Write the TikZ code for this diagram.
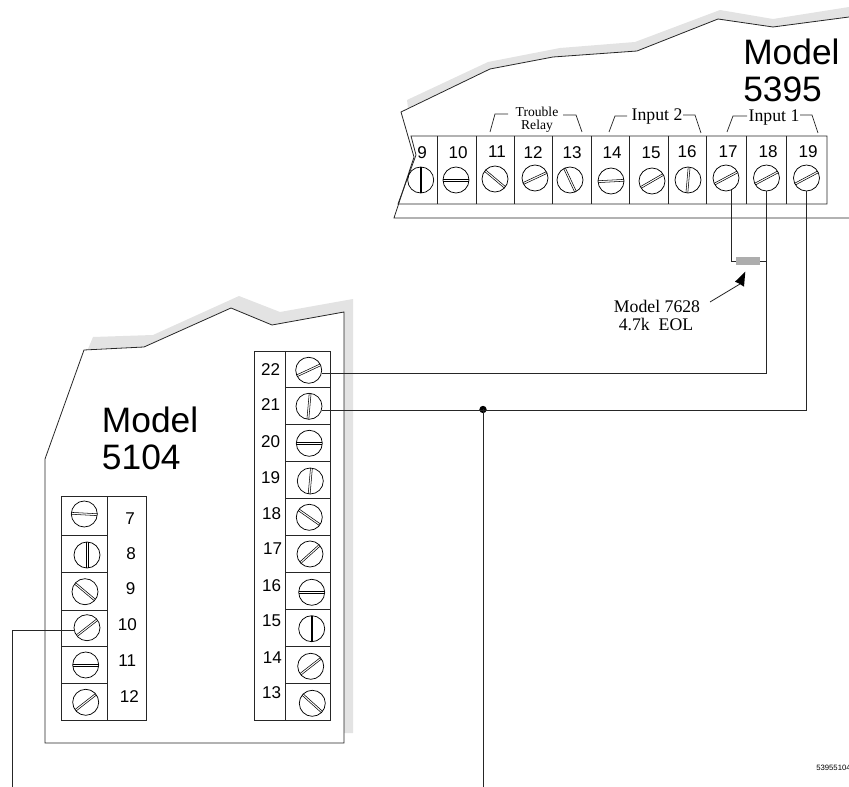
\documentclass[tikz,border=0pt]{standalone}
\usepackage{fontspec}
\setmainfont{Liberation Sans}
\newfontfamily\serifface{Liberation Serif}
\usetikzlibrary{arrows.meta}
\tikzset{
  x=0.75pt,y=-0.75pt,
  thinline/.style={line width=0.6pt,black!85},
  wire/.style={line width=0.65pt,black!85},
  screwhead/.style={circle,draw,line width=0.55pt,minimum size=19.5pt,inner sep=0pt,outer sep=0pt},
  slotline/.style={line width=0.4pt,black},
  numlabel/.style={inner sep=0pt,font=\fontsize{12.8}{12.8}\selectfont},
  bigtitle/.style={inner sep=0pt,anchor=base west,font=\fontsize{26.5}{26.5}\selectfont},
  seriflabel/.style={inner sep=0pt,font=\serifface\fontsize{13.3}{13.3}\selectfont},
  smallserif/.style={inner sep=0pt,font=\serifface\fontsize{10.2}{10.2}\selectfont},
  shadow/.style={fill=black!11,draw=none},
  bracket/.style={line width=0.55pt,black!85},
  junction/.style={circle,fill=black,inner sep=0pt,minimum size=5.5pt},
  resistor/.style={fill=black!32,draw=none,inner sep=0pt,minimum width=18pt,minimum height=6pt},
  endnote/.style={inner sep=0pt,anchor=west,font=\fontsize{5.8}{5.8}\selectfont}
}
\newcommand{\screwat}[4]{%
  \node[screwhead] (#1) at (#2,#3) {};
  \begin{scope}[shift={(#1.center)},rotate=#4]
    \draw[slotline] (-9.7pt,0.7pt) -- (9.7pt,0.7pt);
    \draw[slotline] (-9.7pt,-0.7pt) -- (9.7pt,-0.7pt);
  \end{scope}
}
\begin{document}
\begin{tikzpicture}
\useasboundingbox (0,0) rectangle (849,787);
\clip (0,0) rectangle (849,787);
% shadows
\fill[shadow] (407,100) -- (488,62) -- (560,48) -- (635,42) -- (720,10) -- (773,19) -- (849,7) -- (849,17) -- (773,27) -- (718,19) -- (637,51) -- (553,57) -- (490,69) -- (408,108) -- cycle;
\fill[shadow] (88,349) -- (93,337) -- (153,335) -- (239,296) -- (280,312) -- (353,299) -- (353,733) -- (344,733) -- (344,312) -- (272,325) -- (231,308) -- (144,347) -- cycle;
% Model 5395 outline
\draw[thinline] (849,17) -- (773,27) -- (718,19) -- (637,51) -- (553,57) -- (490,69) -- (401,112) -- (414,157) -- (394,218) -- (849,218);
% strip
\draw[thinline] (411,136) -- (416,155) -- (398,204) -- (827,204) -- (827,136) -- cycle;
\foreach \xx in {437.3,476,514.3,552.7,591,629.3,668,706.7,746.7,786.7}
  \draw[thinline] (\xx,136) -- (\xx,204);
\screwat{t9}{420.7}{180}{90}
\screwat{t10}{456}{180}{0}
\screwat{t11}{495}{179}{-40}
\screwat{t12}{535}{178}{25}
\screwat{t13}{570}{180}{-65}
\screwat{t14}{611}{181}{3}
\screwat{t15}{652}{181}{30}
\screwat{t16}{688}{180}{85}
\screwat{t17}{726}{178}{28}
\screwat{t18}{766.5}{178}{28}
\screwat{t19}{806.5}{178}{28}
\node[numlabel] (n9) at (422,153) {9};
\node[numlabel] (n10) at (458,153) {10};
\node[numlabel] (n11) at (497,152) {11};
\node[numlabel] (n12) at (533,153) {12};
\node[numlabel] (n13) at (572,153) {13};
\node[numlabel] (n14) at (612,153) {14};
\node[numlabel] (n15) at (651,153) {15};
\node[numlabel] (n16) at (687,152) {16};
\node[numlabel] (n17) at (728,152) {17};
\node[numlabel] (n18) at (768,152) {18};
\node[numlabel] (n19) at (808,152) {19};
% brackets
\draw[bracket] (490,132) -- (495,114) -- (508,114);
\draw[bracket] (563,115) -- (576,115) -- (582,132);
\draw[bracket] (609,132) -- (615,116) -- (627,116);
\draw[bracket] (683,115) -- (695,115) -- (701,133);
\draw[bracket] (727,132) -- (733,116) -- (747,116);
\draw[bracket] (800,115) -- (812,115) -- (818,133);
\node[smallserif] (trouble) at (537,112) {Trouble};
\node[smallserif] (relay) at (537,126) {Relay};
\node[seriflabel] (inputtwo) at (657,117) {Input 2};
\node[seriflabel] (inputone) at (774,117.5) {Input 1};
\node[bigtitle] (m1) at (743,65) {Model};
\node[bigtitle] (m2) at (743,101.5) {5395};
% Model 5104 outline
\draw[thinline] (45,459) -- (84,350) -- (144,347) -- (231,308) -- (272,325) -- (344,312) -- (344,743) -- (45,743) -- cycle;
\node[bigtitle] (m3) at (101.7,432.7) {Model};
\node[bigtitle] (m4) at (101.7,469.3) {5104};
% right strip
\draw[thinline] (254.3,351) rectangle (330.7,720);
\draw[thinline] (285.3,351) -- (285.3,720);
\foreach \yy in {387,424.3,461.7,498,535.3,572.7,609,646,683.3}
  \draw[thinline] (285.3,\yy) -- (330.7,\yy);
\screwat{r22}{308.7}{370.3}{25}
\screwat{r21}{309}{406.3}{85}
\screwat{r20}{309.3}{443.3}{0}
\screwat{r19}{310.3}{481}{85}
\screwat{r18}{309.3}{517.3}{-35}
\screwat{r17}{310}{554}{42}
\screwat{r16}{311.7}{592.3}{0}
\screwat{r15}{311.7}{628.7}{90}
\screwat{r14}{310.7}{666.3}{38}
\screwat{r13}{312.3}{703.3}{-42}
\node[numlabel] (q22) at (270.7,370) {22};
\node[numlabel] (q21) at (270.7,405) {21};
\node[numlabel] (q20) at (270.7,441.7) {20};
\node[numlabel] (q19) at (270.7,477.3) {19};
\node[numlabel] (q18) at (271.7,513.3) {18};
\node[numlabel] (q17) at (272.7,548.3) {17};
\node[numlabel] (q16) at (271.7,585.7) {16};
\node[numlabel] (q15) at (271.7,620.7) {15};
\node[numlabel] (q14) at (272.3,657.3) {14};
\node[numlabel] (q13) at (271.7,692.3) {13};
% left strip
\draw[thinline] (61,496) rectangle (146.7,720);
\draw[thinline] (107.3,496) -- (107.3,720);
\foreach \yy in {535.3,572.7,610,646,683.3}
  \draw[thinline] (61,\yy) -- (107.3,\yy);
\screwat{l7}{84.3}{514}{-3}
\screwat{l8}{87}{555}{90}
\screwat{l9}{85}{591.7}{-40}
\screwat{l10}{87}{627.7}{38}
\screwat{l11}{85.7}{665}{0}
\screwat{l12}{85.7}{702.3}{38}
\node[numlabel] (p7) at (130,519) {7};
\node[numlabel] (p8) at (131,554) {8};
\node[numlabel] (p9) at (130.7,589) {9};
\node[numlabel] (p10) at (127.3,625) {10};
\node[numlabel] (p11) at (127.3,661) {11};
\node[numlabel] (p12) at (129.3,696.7) {12};
% resistor and its labels
\node[resistor] (res) at (748,261) {};
\node[seriflabel] (eolone) at (657,306) {Model 7628};
\node[seriflabel] (eoltwo) at (656,324) {4.7k\ \ EOL};
\coordinate (arrowfrom) at (710,302);
\coordinate (arrowbase) at (740,284);
\coordinate (arrowto) at (745.3,271.7);
\draw[thinline] (arrowfrom) -- (arrowbase);
\fill[black] (arrowto) -- (735,281.7) -- (739,283.5) -- (744,286.7) -- cycle;
% wires
\coordinate (lead22) at (321.5,373);
\coordinate (lead21) at (322,410);
\coordinate (lead10) at (74.5,630);
\coordinate (corner18) at (766.5,373);
\coordinate (corner19) at (807.7,410);
\coordinate (drop1) at (12,787);
\coordinate (drop2) at (483,787);
\node[junction] (dot) at (483,409.5) {};
\draw[wire] (t17.-67) |- (res.west);
\draw[wire] (res.east) -- (res.east -| t18.south);
\draw[wire] (t18.south) -- (corner18) -- (lead22);
\draw[wire] (t19.south) -- (t19.south |- corner19) -- (lead21);
\draw[wire] (lead10) -- (lead10 -| drop1) -- (drop1);
\draw[wire] (dot.center) -- (drop2);
\node[endnote] (code) at (816,768) {53955104};
\end{tikzpicture}
\end{document}
